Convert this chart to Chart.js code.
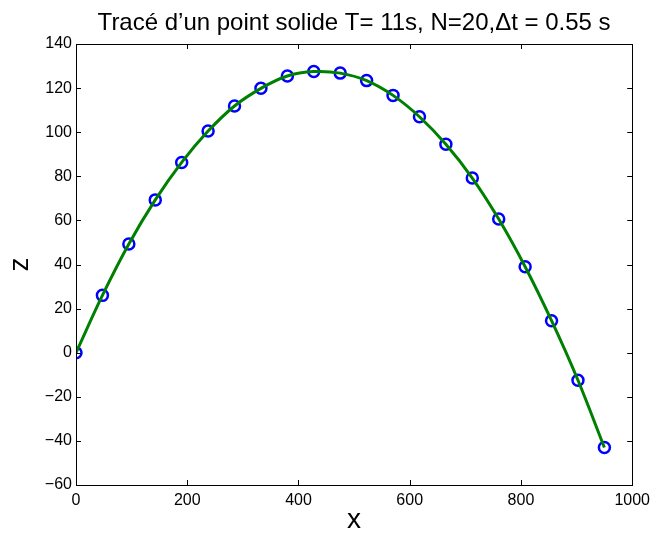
<!DOCTYPE html>
<html>
<head>
<meta charset="utf-8">
<script src="https://cdn.jsdelivr.net/npm/chart.js@4.4.1/dist/chart.umd.min.js"></script>
<style>
  body { margin: 0; background: #fff; }
  #wrap { width: 656px; height: 536px; }
</style>
</head>
<body>
<div id="wrap"><canvas id="trajChart" width="656" height="536"></canvas></div>
<script>
// positions horizontales des points (x)
const xValues = [0, 47.5, 95, 142.5, 190, 237.5, 285, 332.5, 380, 427.5, 475,
                 522.5, 570, 617.5, 665, 712.5, 760, 807.5, 855, 902.5, 950];
// altitudes (z)
const zValues = [0, 26, 49.3, 69.3, 86.3, 100.5, 111.9, 119.9, 125.5, 127.5, 126.8,
                 123.4, 116.7, 107, 94.5, 79.2, 60.6, 39, 14.5, -12.5, -43];
const xTicks = [0, 200, 400, 600, 800, 1000];
const zTicks = [-60, -40, -20, 0, 20, 40, 60, 80, 100, 120, 140];

const titleText = "Tracé d\u2019un point solide T= 11s, N=20,\u0394t = 0.55 s";
const fontFamily = "'Liberation Sans', Arial, Helvetica, sans-serif";

const points = xValues.map((x, i) => ({ x: x, y: zValues[i] }));

// cadre, graduations vers l'intérieur, titre et libellés des axes (style MATLAB)
const matlabFrame = {
    id: "matlabFrame",
    afterDraw(chart) {
        const ctx = chart.ctx;
        const a = chart.chartArea;
        const sx = chart.scales.x;
        const sy = chart.scales.y;
        const tl = 5;
        ctx.save();
        ctx.strokeStyle = "#000";
        ctx.lineWidth = 1;
        ctx.beginPath();
        xTicks.forEach(v => {
            const px = Math.round(sx.getPixelForValue(v)) + 0.5;
            ctx.moveTo(px, a.bottom); ctx.lineTo(px, a.bottom - tl);
            ctx.moveTo(px, a.top); ctx.lineTo(px, a.top + tl);
        });
        zTicks.forEach(v => {
            const py = Math.round(sy.getPixelForValue(v)) + 0.5;
            ctx.moveTo(a.left, py); ctx.lineTo(a.left + tl, py);
            ctx.moveTo(a.right, py); ctx.lineTo(a.right - tl, py);
        });
        ctx.stroke();
        ctx.strokeRect(Math.round(a.left) + 0.5, Math.round(a.top) + 0.5,
                       Math.round(a.right - a.left), Math.round(a.bottom - a.top));

        ctx.fillStyle = "#000";
        ctx.textAlign = "center";
        ctx.textBaseline = "alphabetic";
        ctx.font = "24px " + fontFamily;
        ctx.fillText(titleText, (a.left + a.right) / 2, 30);

        ctx.font = "28px " + fontFamily;
        ctx.fillText("x", (a.left + a.right) / 2, 528);
        ctx.translate(28, (a.top + a.bottom) / 2);
        ctx.rotate(-Math.PI / 2);
        ctx.fillText("z", 0, 0);
        ctx.restore();
    }
};

new Chart(document.getElementById("trajChart"), {
    type: "line",
    data: {
        datasets: [
            {
                label: "trajectoire",
                data: points,
                borderColor: "#008000",
                borderWidth: 3,
                pointRadius: 0,
                tension: 0.35,
                fill: false
            },
            {
                label: "points",
                data: points,
                showLine: false,
                borderColor: "#0000ff",
                backgroundColor: "rgba(0,0,0,0)",
                pointRadius: 5.5,
                pointBorderWidth: 2.5,
                pointBorderColor: "#0000ff"
            }
        ]
    },
    options: {
        responsive: false,
        animation: false,
        layout: { padding: { top: 44, right: 19, left: 0, bottom: 0 } },
        plugins: {
            legend: { display: false },
            tooltip: { enabled: false },
            title: { display: false }
        },
        scales: {
            x: {
                type: "linear",
                min: 0,
                max: 1000,
                afterBuildTicks: s => { s.ticks = xTicks.map(v => ({ value: v })); },
                afterFit: s => { s.height = 51; },
                grid: { display: false, drawTicks: false },
                border: { display: false },
                ticks: {
                    padding: 6,
                    color: "#000",
                    font: { family: fontFamily, size: 16 },
                    maxRotation: 0,
                    callback: v => String(v)
                }
            },
            y: {
                type: "linear",
                min: -60,
                max: 140,
                afterBuildTicks: s => { s.ticks = zTicks.map(v => ({ value: v })); },
                afterFit: s => { s.width = 76; },
                grid: { display: false, drawTicks: false },
                border: { display: false },
                ticks: {
                    padding: 4,
                    color: "#000",
                    font: { family: fontFamily, size: 16 },
                    callback: v => String(v).replace("-", "\u2212")
                }
            }
        }
    },
    plugins: [matlabFrame]
});
</script>
</body>
</html>
